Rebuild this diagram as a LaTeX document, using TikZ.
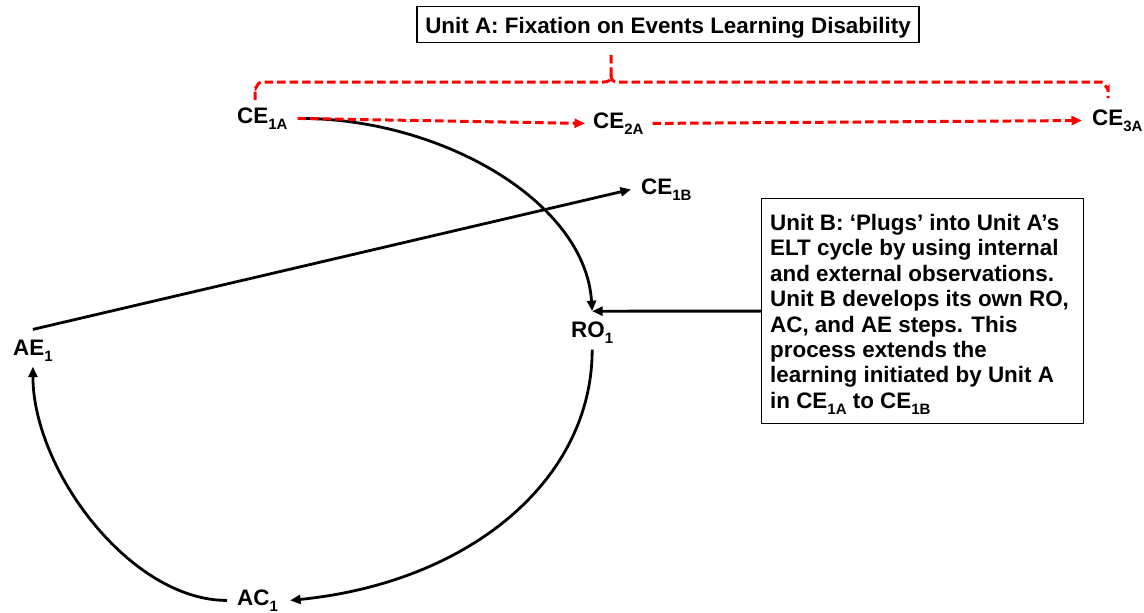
\documentclass[tikz,border=0pt]{standalone}
\usepackage{fontspec}
\setmainfont{Liberation Sans}
\usetikzlibrary{arrows.meta}
% lowered subscript for the step labels
\newcommand{\lsub}[1]{\raisebox{-6.5pt}{\fontsize{15}{15}\selectfont #1}}
\tikzset{
  lbl/.style={anchor=base west, inner sep=0pt},
  tip/.style={-{Triangle[length=10.5pt,width=9pt]}},
  flow/.style={tip, line width=2.8pt, black},
  redflow/.style={tip, line width=3pt, red, dash pattern=on 8.5pt off 4pt},
  bracket/.style={line width=3pt, red, dash pattern=on 8.5pt off 4pt},
  framebox/.style={draw, line width=1.2pt},
}
\begin{document}
\begin{tikzpicture}[x=1pt, y=-1pt,
  every node/.style={font=\fontsize{22.4}{25.4}\selectfont\bfseries}]
\useasboundingbox (0,0) rectangle (1144,613);

% title box of unit A
\node[framebox, anchor=base, text height=22.5pt, text depth=5.7pt,
      inner ysep=4pt, inner xsep=0pt, minimum width=502pt] (unita) at (668,33)
  {Unit A: Fixation on Events Learning Disability};

% brace grouping the concrete experiences of unit A
\draw[bracket] (255,100) -- (255,88) to[out=-90,in=180] (261,82) -- (604,82)
  .. controls (609,82) and (611,80) .. (611,75) -- (611,53);
\draw[bracket] (611,75) .. controls (611,80) and (613,82) .. (618,82)
  -- (1101,82) to[out=0,in=-90] (1108,88) -- (1108,98);

% step labels
\node[lbl] (ce1a) at (237,123) {CE\lsub{1A}};
\node[lbl] (ce2a) at (593,128) {CE\lsub{2A}};
\node[lbl] (ce3a) at (1092,125) {CE\lsub{3A}};
\node[lbl] (ce1b) at (641,194) {CE\lsub{1B}};
\node[lbl] (ro1)  at (571,337) {RO\lsub{1}};
\node[lbl] (ac1)  at (237,605) {AC\lsub{1}};
\node[lbl] (ae1)  at (13,355)  {AE\lsub{1}};

% unit B description box
\node[framebox, anchor=north west, minimum width=322pt, minimum height=225pt,
      inner sep=0pt] (unitb) at (761,198) {};
\node[anchor=north west, inner sep=0pt, align=left] (unitbtext) at (770,214)
  {Unit B: ‘Plugs’ into Unit A’s\\
   ELT cycle by using internal\\
   and external observations.\\
   Unit B develops its own RO,\\
   AC, and AE steps. This\\
   process extends the\\
   learning initiated by Unit A\\
   in CE\lsub{1A} to CE\lsub{1B}};

% experiential learning cycle
\coordinate (rotop) at ([yshift=10pt]ro1.north);
\draw[flow] ([xshift=13pt]ce1a.east) .. controls +(140,0) and +(-7,-110) .. (rotop);
\draw[flow] (unitb.west) -- (rotop);
\draw[flow] ([yshift=-6pt]ro1.south) .. controls +(0,130) and +(180,-18) .. ([xshift=12pt]ac1.east);
\draw[flow] ([xshift=-10pt]ac1.west) .. controls +(-97,0) and +(0,103) .. ([yshift=-5pt]ae1.south);
\draw[flow] ([yshift=10pt]ae1.north) -- ([xshift=-10pt]ce1b.west);

% fixation on events: CE to CE without reflection
\draw[redflow] ([xshift=10pt]ce1a.east) -- ([xshift=-8pt]ce2a.west);
\draw[redflow] ([xshift=9pt]ce2a.east) -- ([xshift=-10pt]ce3a.west);
\end{tikzpicture}
\end{document}
